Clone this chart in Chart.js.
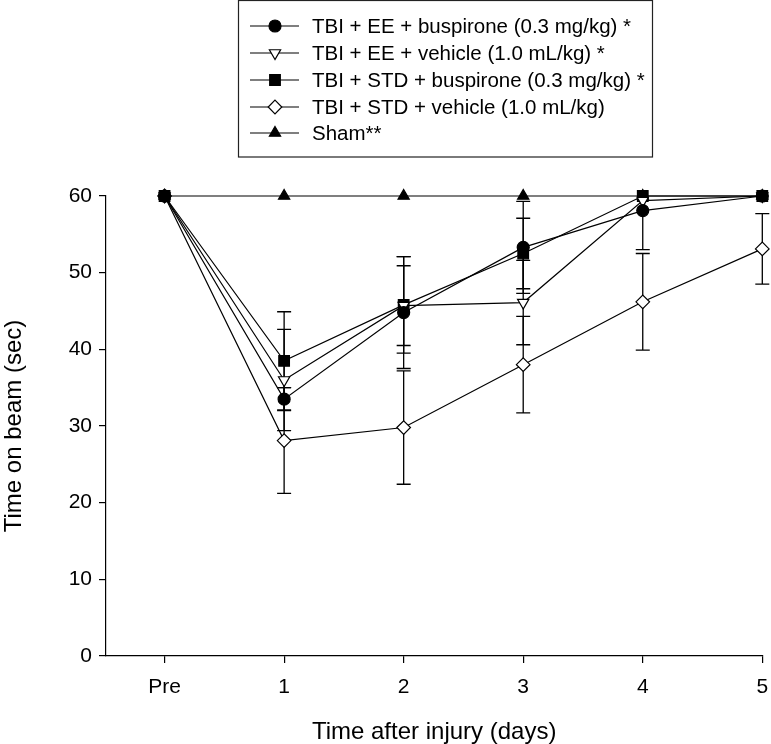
<!DOCTYPE html>
<html>
<head>
<meta charset="utf-8">
<script src="https://cdn.jsdelivr.net/npm/chart.js@4.4.1/dist/chart.umd.min.js"></script>
<style>
  html, body { margin: 0; padding: 0; background: #fff; }
</style>
</head>
<body>
<canvas id="myChart" width="771" height="744"></canvas>
<script>
// x positions (Pre = 0) and their tick labels
const days = [0, 1, 2, 3, 4, 5];
const dayLabels = ["Pre", "1", "2", "3", "4", "5"];

// mean time on beam (sec) and SEM
const eeBuspirone = [60, 33.5, 44.8, 53.3, 58.1, 60];
const eeBuspironeErr = [0, 1.5, 7.3, 6.0, 5.1, 0];
const eeVehicle = [60, 36.0, 45.7, 46.1, 59.4, 60];
const eeVehicleErr = [0, 6.6, 5.2, 5.5, 0, 0];
const stdBuspirone = [60, 38.5, 45.8, 52.5, 60, 60];
const stdBuspironeErr = [0, 6.4, 6.3, 4.6, 0, 0];
const stdVehicle = [60, 28.1, 29.8, 38.0, 46.2, 53.1];
const stdVehicleErr = [0, 6.9, 7.4, 6.3, 6.3, 4.6];
const sham = [60, 60, 60, 60, 60, 60];
const shamErr = [0, 0, 0, 0, 0, 0];

const seriesNames = [
  "TBI + EE + buspirone (0.3 mg/kg) *",
  "TBI + EE + vehicle (1.0 mL/kg) *",
  "TBI + STD + buspirone (0.3 mg/kg) *",
  "TBI + STD + vehicle (1.0 mL/kg)",
  "Sham**"
];

const FONT = "'Liberation Sans', Arial, Helvetica, sans-serif";
Chart.defaults.font.family = FONT;
Chart.defaults.color = "#000";

const toPoints = (vals) => vals.map((v, i) => ({ x: days[i], y: v }));

function makeSet(label, vals, errs, style, fill, radius, rotation) {
  return {
    label: label,
    data: toPoints(vals),
    errors: errs,
    borderColor: "#000",
    borderWidth: 1.2,
    pointStyle: style,
    pointRadius: radius,
    pointHoverRadius: radius,
    pointRotation: rotation || 0,
    pointBackgroundColor: fill,
    pointBorderColor: "#000",
    pointBorderWidth: 1.2,
    tension: 0,
    fill: false,
    clip: false,
  };
}

const datasets = [
  makeSet(seriesNames[0], eeBuspirone, eeBuspironeErr, "circle", "#000", 6),
  makeSet(seriesNames[1], eeVehicle, eeVehicleErr, "triangle", "#fff", 6.5, 180),
  makeSet(seriesNames[2], stdBuspirone, stdBuspironeErr, "rect", "#000", 7.5),
  makeSet(seriesNames[3], stdVehicle, stdVehicleErr, "rectRot", "#fff", 6.8),
  makeSet(seriesNames[4], sham, shamErr, "triangle", "#000", 6.5),
];

// vertical SEM bars with caps, drawn under the lines and markers
const errorBars = {
  id: "errorBars",
  beforeDatasetsDraw(chart) {
    const ctx = chart.ctx;
    const yScale = chart.scales.y;
    const yMax = yScale.max;
    ctx.save();
    ctx.strokeStyle = "#000";
    ctx.lineWidth = 1.3;
    chart.data.datasets.forEach((ds, i) => {
      const meta = chart.getDatasetMeta(i);
      ds.data.forEach((p, j) => {
        const e = ds.errors[j];
        if (!e) return;
        const x = meta.data[j].x;
        const hi = p.y + e;
        const lo = p.y - e;
        const yTop = yScale.getPixelForValue(Math.min(hi, yMax));
        const yBot = yScale.getPixelForValue(Math.max(lo, 0));
        ctx.beginPath();
        ctx.moveTo(x, yTop);
        ctx.lineTo(x, yBot);
        if (hi <= yMax) {
          ctx.moveTo(x - 7, yTop);
          ctx.lineTo(x + 7, yTop);
        }
        ctx.moveTo(x - 7, yBot);
        ctx.lineTo(x + 7, yBot);
        ctx.stroke();
      });
    });
    ctx.restore();
  }
};

function drawMarker(ctx, style, x, y, r, rotation, fill) {
  ctx.beginPath();
  if (style === "circle") {
    ctx.arc(x, y, r, 0, Math.PI * 2);
  } else if (style === "rect") {
    const s = r * Math.SQRT1_2;
    ctx.rect(x - s, y - s, 2 * s, 2 * s);
  } else if (style === "rectRot") {
    ctx.moveTo(x, y - r);
    ctx.lineTo(x + r, y);
    ctx.lineTo(x, y + r);
    ctx.lineTo(x - r, y);
    ctx.closePath();
  } else if (style === "triangle") {
    let rad = (rotation || 0) * Math.PI / 180;
    for (let k = 0; k < 3; k++) {
      const px = x + Math.sin(rad) * r;
      const py = y - Math.cos(rad) * r;
      if (k === 0) ctx.moveTo(px, py); else ctx.lineTo(px, py);
      rad += 2 * Math.PI / 3;
    }
    ctx.closePath();
  }
  ctx.fillStyle = fill;
  ctx.fill();
  ctx.stroke();
}

// boxed legend, line sample + marker + label per series
const boxLegend = {
  id: "boxLegend",
  afterDraw(chart) {
    const ctx = chart.ctx;
    const rows = [26, 53, 80, 107, 133];
    ctx.save();
    ctx.strokeStyle = "#222";
    ctx.lineWidth = 1.2;
    ctx.strokeRect(238.5, 0.5, 414, 156.5);
    ctx.font = "20.5px " + FONT;
    ctx.textBaseline = "middle";
    ctx.textAlign = "left";
    chart.data.datasets.forEach((ds, i) => {
      const y = rows[i];
      ctx.strokeStyle = "#000";
      ctx.lineWidth = 1.2;
      ctx.beginPath();
      ctx.moveTo(250, y);
      ctx.lineTo(299, y);
      ctx.stroke();
      drawMarker(ctx, ds.pointStyle, 275, y, ds.pointRadius, ds.pointRotation, ds.pointBackgroundColor);
      ctx.fillStyle = "#000";
      ctx.fillText(ds.label, 312, y + 1);
    });
    ctx.restore();
  }
};

const ctx = document.getElementById("myChart").getContext("2d");
const myChart = new Chart(ctx, {
  type: "line",
  data: { datasets: datasets },
  options: {
    responsive: false,
    animation: false,
    devicePixelRatio: 1,
    layout: { padding: { top: 196, right: 8, left: 0, bottom: 0 } },
    plugins: { legend: { display: false }, tooltip: { enabled: false } },
    scales: {
      x: {
        type: "linear",
        min: -0.49,
        max: 5,
        afterBuildTicks: (scale) => { scale.ticks = days.map((v) => ({ value: v })); },
        afterFit: (scale) => {
          scale.height = 88;
          scale.paddingLeft = 0;
          scale.paddingRight = 0;
        },
        ticks: {
          autoSkip: false,
          maxRotation: 0,
          padding: 12,
          font: { size: 21 },
          callback: (v) => dayLabels[days.indexOf(v)],
        },
        grid: { drawOnChartArea: false, tickLength: 7, color: "#000", lineWidth: 1.2 },
        border: { color: "#000", width: 1.2 },
        title: {
          display: true,
          text: "Time after injury (days)",
          font: { size: 24, lineHeight: 1 },
          padding: { top: 0, bottom: 0 },
        },
      },
      y: {
        min: 0,
        max: 60,
        afterFit: (scale) => { scale.width = 106; },
        ticks: { stepSize: 10, padding: 7, font: { size: 21 } },
        grid: { drawOnChartArea: false, tickLength: 7, color: "#000", lineWidth: 1.2 },
        border: { color: "#000", width: 1.2 },
        title: {
          display: true,
          text: "Time on beam (sec)",
          font: { size: 24, lineHeight: 1 },
          padding: { top: 2, bottom: 0 },
        },
      },
    },
  },
  plugins: [errorBars, boxLegend],
});
</script>
</body>
</html>
